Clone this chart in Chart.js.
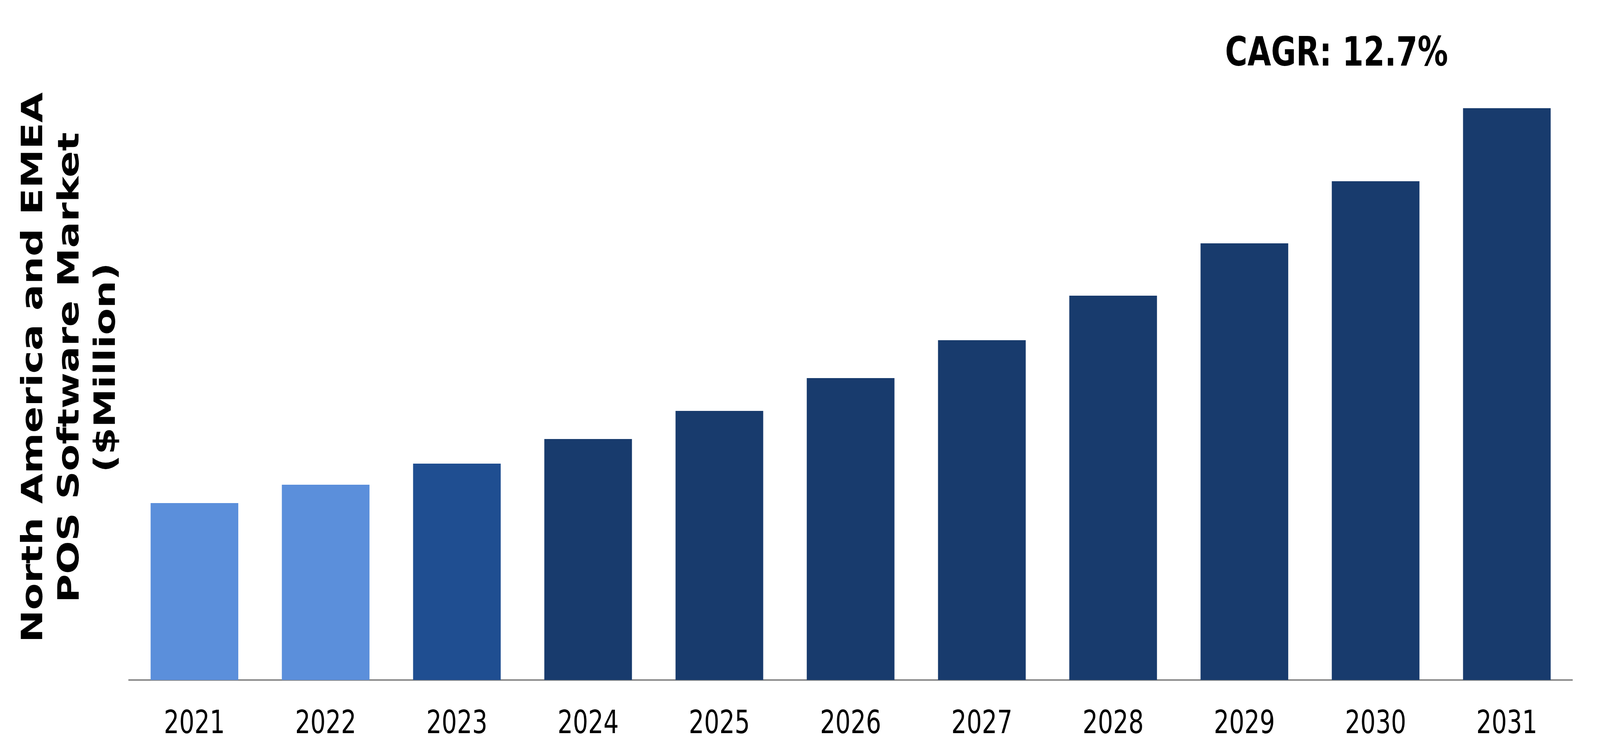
<!DOCTYPE html>
<html>
<head>
<meta charset="utf-8">
<script src="https://cdn.jsdelivr.net/npm/chart.js@4.4.1/dist/chart.umd.min.js"></script>
<style>
  html, body { margin: 0; padding: 0; background: #ffffff; overflow: hidden; }
  #market-bar-chart { display: block; width: 100vw; height: 100vh; }
</style>
</head>
<body>
<canvas id="market-bar-chart" width="5460" height="1933" style="width:100vw;height:100vh"></canvas>
<script>
// data (relative bar heights, $Million)
const years = ["2021", "2022", "2023", "2024", "2025", "2026", "2027", "2028", "2029", "2030", "2031"];
const marketSize = [45.3, 50.0, 55.4, 61.7, 68.9, 77.3, 87.0, 98.4, 111.8, 127.7, 146.4];
const barColors = ["#5b8fdb", "#5b8fdb", "#1f4e91", "#183b6d", "#183b6d", "#183b6d",
                   "#183b6d", "#183b6d", "#183b6d", "#183b6d", "#183b6d"];
const yTitle = ["North America and EMEA", "POS Software Market", "($Million)"];
const cagrText = "CAGR: 12.7%";

const cagrLabel = {
    id: "cagrLabel",
    afterDraw(chart) {
        const ctx = chart.ctx;
        ctx.save();
        ctx.font = "bold 104px 'DejaVu Sans'";
        ctx.fillStyle = "#000000";
        ctx.textAlign = "center";
        ctx.textBaseline = "alphabetic";
        ctx.fillText(cagrText, 4561, 168);
        ctx.restore();
    },
};

let ctx = document.getElementById("market-bar-chart").getContext("2d");
let myChart = new Chart(ctx, {
    type: "bar",
    data: {
        labels: years,
        datasets: [{
            data: marketSize,
            backgroundColor: barColors,
            borderWidth: 0,
            categoryPercentage: 1,
            barPercentage: 0.668,
        }],
    },
    options: {
        responsive: false,
        devicePixelRatio: 1,
        animation: false,
        layout: {
            padding: { left: 0, right: 94, top: 141, bottom: 0 },
        },
        plugins: {
            legend: { display: false },
            tooltip: { enabled: false },
        },
        scales: {
            x: {
                afterFit: (scale) => { scale.height = 192; },
                ticks: {
                    font: { family: "'DejaVu Sans'", size: 82 },
                    color: "#000000",
                    padding: 66,
                    maxRotation: 0,
                },
                grid: {
                    display: false,
                    drawTicks: false,
                },
                border: {
                    display: true,
                    color: "#898989",
                    width: 4,
                },
            },
            y: {
                min: 0,
                max: 160,
                afterFit: (scale) => { scale.width = 439.5; },
                ticks: { display: false },
                grid: { display: false, drawTicks: false },
                border: { display: false },
                title: {
                    display: true,
                    text: yTitle,
                    color: "#000000",
                    font: { family: "'DejaVu Sans'", size: 100, weight: "bold", lineHeight: 1.24 },
                    padding: { top: 56, bottom: 0 },
                },
            },
        },
    },
    plugins: [cagrLabel],
});
</script>
</body>
</html>
